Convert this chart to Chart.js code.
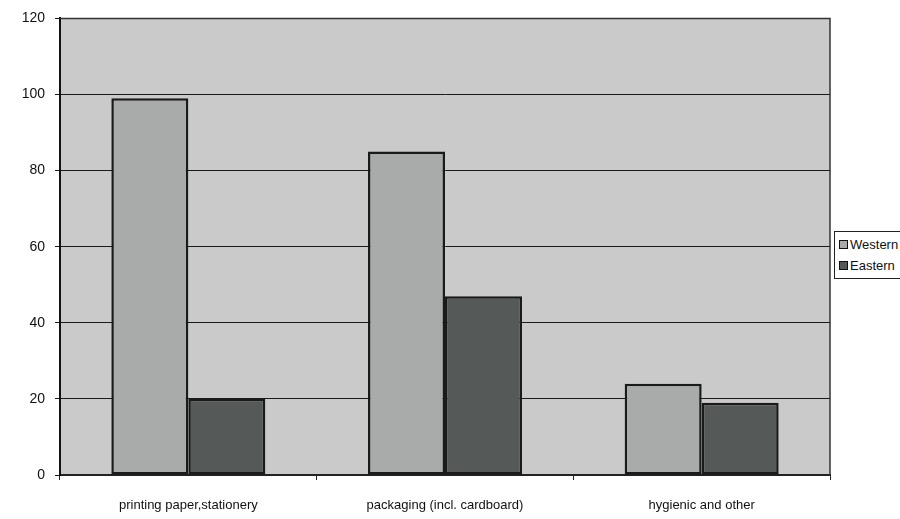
<!DOCTYPE html>
<html>
<head>
<meta charset="utf-8">
<script src="https://cdn.jsdelivr.net/npm/chart.js@4"></script>
<style>
  html, body { margin: 0; padding: 0; background: #fff; }
  #wrap { position: relative; width: 900px; height: 519px; }
  #legend {
    position: absolute; left: 834px; top: 231px; width: 80px; height: 46px;
    border: 1px solid #222; background: #fff;
    font-family: "Liberation Sans", Arial, sans-serif; font-size: 13px; color: #111;
  }
  #legend div { position: absolute; left: 4px; white-space: nowrap; }
  #legend span {
    display: inline-block; width: 7px; height: 7px; border: 1px solid #111;
    margin-right: 2px; vertical-align: 0px;
  }
</style>
</head>
<body>
<div id="wrap">
  <canvas id="chart" width="900" height="519"></canvas>
  <div id="legend">
    <div style="top:5px"><span style="background:#a9abaa"></span>Western</div>
    <div style="top:26px"><span style="background:#555a58"></span>Eastern</div>
  </div>
</div>
<script>
// Data
const categories = ['printing paper,stationery', 'packaging (incl. cardboard)', 'hygienic and other'];
const western = [99, 85, 24];
const eastern = [20, 47, 19];
const yTicks = [0, 20, 40, 60, 80, 100, 120];

// Gray plot area + frame
const plotBackground = {
    id: 'plotBackground',
    beforeDraw(chart) {
        const { ctx, chartArea: a } = chart;
        ctx.save();
        ctx.fillStyle = '#cacaca';
        ctx.fillRect(a.left, a.top, a.right - a.left, a.bottom - a.top);
        ctx.restore();
    },
    afterDraw(chart) {
        const { ctx, chartArea: a } = chart;
        ctx.save();
        ctx.strokeStyle = '#333';
        ctx.lineWidth = 1.5;
        ctx.beginPath();
        ctx.moveTo(a.left, a.top);
        ctx.lineTo(a.right, a.top);
        ctx.lineTo(a.right, a.bottom);
        ctx.stroke();
        ctx.restore();
    }
};

const ctx = document.getElementById('chart').getContext('2d');
const chart = new Chart(ctx, {
    type: 'bar',
    data: {
        labels: categories,
        datasets: [{
            label: 'Western',
            data: western,
            backgroundColor: '#a9abaa',
            borderColor: '#1a1a1a',
            borderWidth: 2.5,
            borderSkipped: false
        }, {
            label: 'Eastern',
            data: eastern,
            backgroundColor: '#555a58',
            borderColor: '#1a1a1a',
            borderWidth: 2.5,
            borderSkipped: false
        }]
    },
    options: {
        responsive: false,
        animation: false,
        layout: { padding: { top: 15, right: 70, left: 0, bottom: 0 } },
        plugins: {
            legend: { display: false },
            tooltip: { enabled: false }
        },
        datasets: {
            bar: { barPercentage: 1, categoryPercentage: 0.6 }
        },
        scales: {
            x: {
                afterFit(scale) { scale.height = 44; },
                grid: {
                    offset: true,
                    drawOnChartArea: false,
                    drawTicks: true,
                    tickLength: 5,
                    color: '#222'
                },
                border: { color: '#222', width: 2 },
                ticks: {
                    color: '#111',
                    padding: 18,
                    font: { family: '"Liberation Sans", Arial, sans-serif', size: 13 },
                    maxRotation: 0
                }
            },
            y: {
                min: 0,
                max: 120,
                afterFit(scale) { scale.width = 60; },
                afterBuildTicks(scale) { scale.ticks = yTicks.map(v => ({ value: v })); },
                grid: {
                    color: '#1a1a1a',
                    lineWidth: 1,
                    drawTicks: true,
                    tickLength: 5
                },
                border: { color: '#111', width: 2 },
                ticks: {
                    color: '#111',
                    padding: 10,
                    font: { family: '"Liberation Sans", Arial, sans-serif', size: 14 }
                }
            }
        }
    },
    plugins: [plotBackground]
});
</script>
</body>
</html>
